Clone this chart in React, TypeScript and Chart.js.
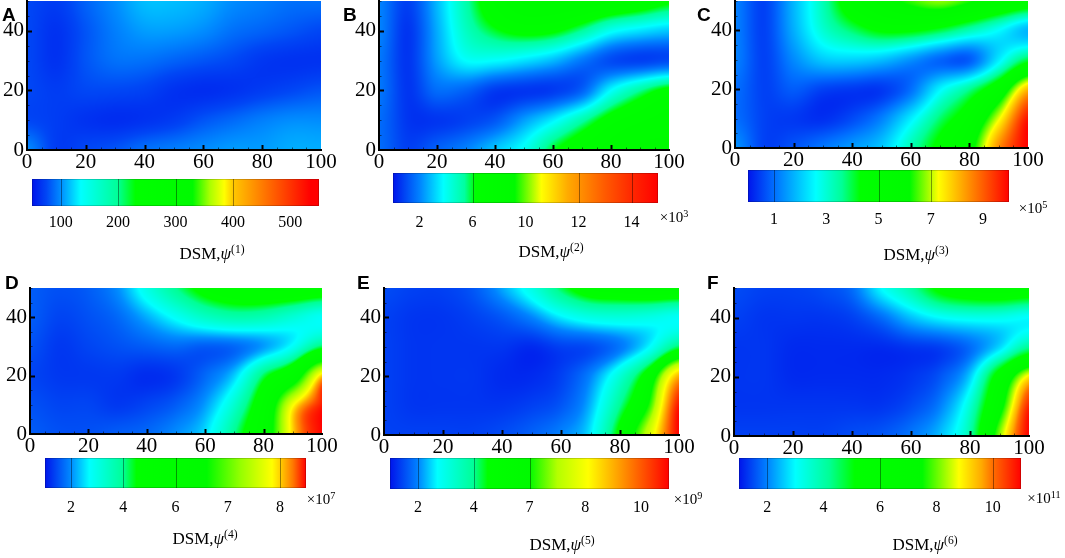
import React, { useEffect, useRef } from 'react';
import { Chart, registerables } from 'chart.js';
Chart.register(...registerables);

// grid nodes of every field: columns left to right, rows listed from the top (y = 50) down
const X_NODES = [0, 10, 20, 30, 40, 50, 60, 70, 80, 90, 100];
const Y_NODES = [50, 40, 30, 20, 10, 0];
const X_TICKS = [0, 20, 40, 60, 80, 100];
const Y_TICKS = [0, 20, 40];

// colour level (0 = left end of its colour bar, 1 = right end)
const FIELD_A = [
  [0.05, 0.04, 0.07, 0.1, 0.13, 0.13, 0.12, 0.1, 0.09, 0.08, 0.08],
  [0.05, 0.03, 0.06, 0.09, 0.11, 0.11, 0.1, 0.08, 0.07, 0.06, 0.05],
  [0.05, 0.03, 0.06, 0.08, 0.08, 0.07, 0.06, 0.05, 0.035, 0.03, 0.03],
  [0.05, 0.04, 0.05, 0.05, 0.045, 0.03, 0.025, 0.03, 0.04, 0.05, 0.06],
  [0.05, 0.04, 0.03, 0.025, 0.03, 0.04, 0.06, 0.075, 0.09, 0.1, 0.1],
  [0.1, 0.04, 0.05, 0.06, 0.08, 0.09, 0.1, 0.11, 0.11, 0.12, 0.12],
];
const FIELD_B = [
  [0.1, 0.04, 0.14, 0.26, 0.36, 0.42, 0.42, 0.41, 0.39, 0.36, 0.32],
  [0.1, 0.03, 0.13, 0.24, 0.3, 0.33, 0.32, 0.27, 0.2, 0.17, 0.15],
  [0.09, 0.03, 0.12, 0.19, 0.19, 0.17, 0.14, 0.09, 0.05, 0.04, 0.05],
  [0.09, 0.03, 0.08, 0.07, 0.035, 0.03, 0.035, 0.07, 0.19, 0.27, 0.33],
  [0.08, 0.03, 0.03, 0.04, 0.06, 0.12, 0.18, 0.26, 0.34, 0.38, 0.4],
  [0.08, 0.04, 0.07, 0.1, 0.15, 0.2, 0.3, 0.36, 0.4, 0.42, 0.42],
];
const FIELD_C = [
  [0.12, 0.05, 0.18, 0.33, 0.5, 0.58, 0.64, 0.68, 0.63, 0.56, 0.5],
  [0.12, 0.05, 0.17, 0.3, 0.38, 0.44, 0.44, 0.4, 0.33, 0.26, 0.18],
  [0.12, 0.05, 0.13, 0.2, 0.21, 0.19, 0.14, 0.09, 0.08, 0.24, 0.4],
  [0.1, 0.05, 0.08, 0.05, 0.04, 0.04, 0.1, 0.25, 0.36, 0.52, 0.8],
  [0.1, 0.05, 0.04, 0.03, 0.06, 0.12, 0.24, 0.38, 0.5, 0.72, 0.98],
  [0.14, 0.05, 0.07, 0.11, 0.15, 0.2, 0.33, 0.46, 0.58, 0.85, 1.0],
];
const FIELD_D = [
  [0.06, 0.05, 0.06, 0.1, 0.2, 0.3, 0.38, 0.42, 0.44, 0.44, 0.42],
  [0.06, 0.04, 0.05, 0.07, 0.12, 0.18, 0.24, 0.27, 0.26, 0.22, 0.18],
  [0.05, 0.03, 0.04, 0.05, 0.06, 0.07, 0.06, 0.07, 0.11, 0.18, 0.32],
  [0.04, 0.03, 0.03, 0.03, 0.02, 0.03, 0.07, 0.14, 0.32, 0.5, 0.9],
  [0.05, 0.04, 0.04, 0.03, 0.04, 0.06, 0.11, 0.23, 0.45, 0.86, 0.99],
  [0.06, 0.05, 0.05, 0.06, 0.07, 0.1, 0.15, 0.3, 0.5, 0.9, 1.0],
];
const FIELD_E = [
  [0.05, 0.04, 0.04, 0.06, 0.12, 0.2, 0.32, 0.4, 0.42, 0.44, 0.44],
  [0.04, 0.03, 0.03, 0.04, 0.06, 0.1, 0.16, 0.2, 0.21, 0.2, 0.18],
  [0.04, 0.03, 0.03, 0.03, 0.03, 0.02, 0.04, 0.05, 0.09, 0.17, 0.32],
  [0.04, 0.03, 0.03, 0.03, 0.02, 0.02, 0.04, 0.1, 0.22, 0.42, 0.8],
  [0.04, 0.03, 0.03, 0.03, 0.03, 0.04, 0.06, 0.13, 0.3, 0.52, 0.98],
  [0.04, 0.04, 0.04, 0.04, 0.05, 0.07, 0.1, 0.16, 0.38, 0.65, 1.0],
];
const FIELD_F = [
  [0.05, 0.04, 0.04, 0.05, 0.08, 0.2, 0.3, 0.44, 0.5, 0.52, 0.5],
  [0.04, 0.03, 0.03, 0.03, 0.04, 0.08, 0.15, 0.2, 0.22, 0.22, 0.2],
  [0.03, 0.03, 0.02, 0.02, 0.02, 0.02, 0.03, 0.04, 0.08, 0.17, 0.32],
  [0.03, 0.03, 0.02, 0.02, 0.02, 0.02, 0.03, 0.06, 0.16, 0.48, 0.8],
  [0.03, 0.03, 0.03, 0.03, 0.03, 0.03, 0.05, 0.1, 0.25, 0.6, 0.97],
  [0.04, 0.04, 0.04, 0.04, 0.05, 0.06, 0.09, 0.15, 0.3, 0.72, 1.0],
];

// colour bar ticks (position along the bar) and their labels
const BAR_TICKS = [0.1, 0.3, 0.5, 0.7, 0.9];
const LABELS_A = ['100', '200', '300', '400', '500'];
const LABELS_B = ['2', '6', '10', '12', '14'];
const LABELS_C = ['1', '3', '5', '7', '9'];
const LABELS_D = ['2', '4', '6', '7', '8'];
const LABELS_E = ['2', '4', '7', '8', '10'];
const LABELS_F = ['2', '4', '6', '8', '10'];
// contour levels marked by thin lines inside each bar
const LINES_A = [0.1, 0.3, 0.5, 0.7];
const LINES_B = [0.3, 0.7, 0.9];
const LINES_C = [0.1, 0.5, 0.7];
const LINES_D = [0.1, 0.3, 0.5, 0.9];
const LINES_E = [0.1, 0.3, 0.5];
const LINES_F = [0.1, 0.5, 0.9];

const SERIF = '"Liberation Serif", "Times New Roman", serif';
const SANS = '"Liberation Sans", Arial, sans-serif';

// colour stops of each bar: [position, rgb]
const STOPS_A = [[0, [0, 20, 235]], [0.05, [0, 70, 245]], [0.1, [0, 140, 255]], [0.17, [0, 255, 255]], [0.3, [0, 255, 150]], [0.36, [0, 255, 0]], [0.56, [0, 250, 0]], [0.62, [170, 255, 0]], [0.67, [255, 255, 0]], [0.7, [255, 200, 0]], [0.82, [255, 110, 0]], [0.97, [255, 0, 0]], [1, [255, 0, 0]]];
const STOPS_B = [[0, [0, 20, 235]], [0.1, [0, 130, 255]], [0.19, [0, 255, 255]], [0.27, [0, 255, 160]], [0.31, [0, 255, 0]], [0.46, [0, 250, 0]], [0.56, [255, 255, 0]], [0.66, [255, 170, 0]], [0.8, [255, 90, 0]], [0.9, [255, 40, 0]], [1, [255, 0, 0]]];
const STOPS_C = [[0, [0, 20, 235]], [0.1, [0, 110, 255]], [0.26, [0, 255, 255]], [0.36, [0, 255, 150]], [0.43, [0, 255, 0]], [0.62, [0, 250, 0]], [0.73, [255, 255, 0]], [0.86, [255, 130, 0]], [1, [255, 0, 0]]];
const STOPS_D = [[0, [0, 20, 235]], [0.1, [0, 140, 255]], [0.17, [0, 255, 255]], [0.3, [0, 255, 150]], [0.35, [0, 255, 0]], [0.62, [0, 250, 0]], [0.75, [150, 255, 0]], [0.87, [255, 255, 0]], [0.9, [255, 210, 0]], [0.95, [255, 120, 0]], [1, [255, 0, 0]]];
const STOPS_E = [[0, [0, 20, 235]], [0.1, [0, 130, 255]], [0.17, [0, 255, 255]], [0.3, [0, 255, 150]], [0.35, [0, 255, 0]], [0.5, [0, 250, 0]], [0.6, [180, 255, 0]], [0.71, [255, 255, 0]], [0.83, [255, 150, 0]], [1, [255, 0, 0]]];
const STOPS_F = [[0, [0, 20, 235]], [0.1, [0, 130, 255]], [0.2, [0, 255, 255]], [0.32, [0, 255, 150]], [0.41, [0, 255, 0]], [0.65, [0, 250, 0]], [0.78, [255, 255, 0]], [0.86, [255, 170, 0]], [0.9, [255, 110, 0]], [1, [255, 0, 0]]];

// layout in page pixels: plot [left, top, right, bottom], bar likewise
const PANELS = [
  { letter: 'A', n: '1', field: FIELD_A, stops: STOPS_A, labels: LABELS_A, lines: LINES_A, exp: null,
    plot: [27, 1, 321, 150], bar: [32, 179, 319, 206], barLabelY: 223, title: [212, 253], note: [0, 0], letterAt: [2, 7] },
  { letter: 'B', n: '2', field: FIELD_B, stops: STOPS_B, labels: LABELS_B, lines: LINES_B, exp: '3',
    plot: [379, 1, 669, 150], bar: [393, 173, 658, 203], barLabelY: 223, title: [551, 251], note: [674, 217], letterAt: [343, 7] },
  { letter: 'C', n: '3', field: FIELD_C, stops: STOPS_C, labels: LABELS_C, lines: LINES_C, exp: '5',
    plot: [735, 1, 1028, 148], bar: [748, 170, 1009, 202], barLabelY: 220, title: [916, 254], note: [1033, 208], letterAt: [697, 7] },
  { letter: 'D', n: '4', field: FIELD_D, stops: STOPS_D, labels: LABELS_D, lines: LINES_D, exp: '7',
    plot: [30, 288, 322, 434], bar: [45, 458, 306, 488], barLabelY: 508, title: [205, 538], note: [321, 499], letterAt: [5, 275] },
  { letter: 'E', n: '5', field: FIELD_E, stops: STOPS_E, labels: LABELS_E, lines: LINES_E, exp: '9',
    plot: [384, 288, 679, 435], bar: [390, 458, 669, 489], barLabelY: 508, title: [562, 544], note: [688, 499], letterAt: [357, 275] },
  { letter: 'F', n: '6', field: FIELD_F, stops: STOPS_F, labels: LABELS_F, lines: LINES_F, exp: '11',
    plot: [734, 288, 1029, 436], bar: [739, 458, 1021, 489], barLabelY: 508, title: [925, 544], note: [1044, 498], letterAt: [707, 275] },
];

function colourAt(stops: any[], t: number): number[] {
  if (t <= stops[0][0]) return stops[0][1];
  for (let k = 1; k < stops.length; k++) {
    const [p1, c1] = stops[k];
    const [p0, c0] = stops[k - 1];
    if (t <= p1) {
      const f = (t - p0) / (p1 - p0);
      return c0.map((v: number, i: number) => v + (c1[i] - v) * f);
    }
  }
  return stops[stops.length - 1][1];
}

// Catmull-Rom between grid nodes, only used to shade pixels between the read values
function cr(p0: number, p1: number, p2: number, p3: number, t: number) {
  return p1 + 0.5 * t * (p2 - p0 + t * (2 * p0 - 5 * p1 + 4 * p2 - p3 + t * (3 * (p1 - p2) + p3 - p0)));
}

function sampleField(f: number[][], gx: number, gy: number) {
  const rows = f.length, cols = f[0].length;
  const ix = Math.min(Math.max(Math.floor(gx), 0), cols - 2);
  const iy = Math.min(Math.max(Math.floor(gy), 0), rows - 2);
  const tx = gx - ix, ty = gy - iy;
  const at = (r: number, c: number) => f[Math.min(Math.max(r, 0), rows - 1)][Math.min(Math.max(c, 0), cols - 1)];
  const row = (r: number) => cr(at(r, ix - 1), at(r, ix), at(r, ix + 1), at(r, ix + 2), tx);
  return Math.min(1, Math.max(0, cr(row(iy - 1), row(iy), row(iy + 1), row(iy + 2), ty)));
}

const AX_W = 32, AX_H = 30, PAD_T = 10, PAD_R = 24;

function makeFieldPlugin(field: number[][], stops: any[]) {
  return {
    id: 'field',
    beforeDraw(chart: any) {
      const { ctx, chartArea: a, scales: { x, y } } = chart;
      const w = Math.round(a.right - a.left), h = Math.round(a.bottom - a.top);
      const off = document.createElement('canvas');
      off.width = w;
      off.height = h;
      const octx = off.getContext('2d')!;
      const img = octx.createImageData(w, h);
      const dx = X_NODES[1] - X_NODES[0], dy = Y_NODES[0] - Y_NODES[1];
      for (let j = 0; j < h; j++) {
        const gy = (Y_NODES[0] - y.getValueForPixel(a.top + j + 0.5)) / dy;
        for (let i = 0; i < w; i++) {
          const gx = (x.getValueForPixel(a.left + i + 0.5) - X_NODES[0]) / dx;
          const c = colourAt(stops, sampleField(field, gx, gy));
          const k = (j * w + i) * 4;
          img.data[k] = c[0];
          img.data[k + 1] = c[1];
          img.data[k + 2] = c[2];
          img.data[k + 3] = 255;
        }
      }
      octx.putImageData(img, 0, 0);
      ctx.drawImage(off, a.left, a.top);
    },
    afterDraw(chart: any) {
      const { ctx, chartArea: a, scales: { x, y } } = chart;
      ctx.save();
      for (let v = 5; v < 100; v += 5) {
        const major = v % 20 === 0;
        const px = Math.round(x.getPixelForValue(v)) + 0.5;
        ctx.strokeStyle = major ? '#000' : 'rgba(0,0,0,0.55)';
        ctx.lineWidth = major ? 2 : 1;
        ctx.beginPath();
        ctx.moveTo(px, a.bottom);
        ctx.lineTo(px, a.bottom - (major ? 5 : 2.5));
        ctx.stroke();
      }
      for (let v = 5; v <= 50; v += 5) {
        const major = v % 20 === 0;
        const py = Math.round(y.getPixelForValue(v)) + 0.5;
        ctx.strokeStyle = major ? '#000' : 'rgba(0,0,0,0.55)';
        ctx.lineWidth = major ? 2 : 1;
        ctx.beginPath();
        ctx.moveTo(a.left, py);
        ctx.lineTo(a.left + (major ? 5 : 2.5), py);
        ctx.stroke();
      }
      ctx.restore();
    },
  };
}

function HeatChart({ p }: { p: any }) {
  const ref = useRef<HTMLCanvasElement>(null);
  const [l, t, r, b] = p.plot;
  useEffect(() => {
    const chart = new Chart(ref.current!, {
      type: 'scatter',
      data: { datasets: [] },
      options: {
        animation: false,
        responsive: true,
        maintainAspectRatio: false,
        layout: { padding: { left: 0, top: PAD_T, right: PAD_R, bottom: 0 } },
        plugins: { legend: { display: false }, tooltip: { enabled: false } },
        scales: {
          x: {
            type: 'linear', min: 0, max: 100,
            afterBuildTicks: (s: any) => { s.ticks = X_TICKS.map((v) => ({ value: v })); },
            ticks: { color: '#000', font: { family: SERIF, size: 21 }, padding: 0, maxRotation: 0, autoSkip: false },
            grid: { display: false, drawTicks: false },
            border: { display: true, color: '#000', width: 2 },
            afterFit: (s: any) => { s.height = AX_H; s.paddingLeft = 0; s.paddingRight = 0; },
          },
          y: {
            type: 'linear', min: 0, max: 50,
            afterBuildTicks: (s: any) => { s.ticks = Y_TICKS.map((v) => ({ value: v })); },
            ticks: { color: '#000', font: { family: SERIF, size: 21 }, padding: 3, autoSkip: false },
            grid: { display: false, drawTicks: false },
            border: { display: true, color: '#000', width: 2 },
            afterFit: (s: any) => { s.width = AX_W; s.paddingTop = 0; s.paddingBottom = 0; },
          },
        },
      } as any,
      plugins: [makeFieldPlugin(p.field, p.stops)],
    });
    return () => chart.destroy();
  }, [p]);
  return (
    <div style={{ position: 'absolute', left: l - AX_W, top: t - PAD_T, width: r - l + AX_W + PAD_R, height: b - t + PAD_T + AX_H }}>
      <canvas ref={ref} />
    </div>
  );
}

const BAR_PAD = 20, BAR_TOP = 4, BAR_AX = 34;

function ColourBar({ p }: { p: any }) {
  const ref = useRef<HTMLCanvasElement>(null);
  const [l, t, r, b] = p.bar;
  useEffect(() => {
    const barPlugin = {
      id: 'bar',
      beforeDraw(chart: any) {
        const { ctx, chartArea: a, scales: { x } } = chart;
        const g = ctx.createLinearGradient(x.getPixelForValue(0), 0, x.getPixelForValue(1), 0);
        p.stops.forEach(([pos, c]: any) => g.addColorStop(pos, `rgb(${c[0]},${c[1]},${c[2]})`));
        ctx.save();
        ctx.fillStyle = g;
        ctx.fillRect(a.left, a.top, a.right - a.left, a.bottom - a.top);
        ctx.strokeStyle = 'rgba(0,0,0,0.4)';
        ctx.lineWidth = 1;
        p.lines.forEach((v: number) => {
          const px = Math.round(x.getPixelForValue(v)) + 0.5;
          ctx.beginPath();
          ctx.moveTo(px, a.top);
          ctx.lineTo(px, a.bottom);
          ctx.stroke();
        });
        ctx.strokeStyle = 'rgba(0,0,0,0.18)';
        ctx.strokeRect(a.left + 0.5, a.top + 0.5, a.right - a.left - 1, a.bottom - a.top - 1);
        ctx.restore();
      },
    };
    const chart = new Chart(ref.current!, {
      type: 'scatter',
      data: { datasets: [] },
      options: {
        animation: false,
        responsive: true,
        maintainAspectRatio: false,
        layout: { padding: { left: BAR_PAD, top: BAR_TOP, right: BAR_PAD, bottom: 0 } },
        plugins: { legend: { display: false }, tooltip: { enabled: false } },
        scales: {
          x: {
            type: 'linear', min: 0, max: 1,
            afterBuildTicks: (s: any) => { s.ticks = BAR_TICKS.map((v) => ({ value: v })); },
            ticks: {
              color: '#000', font: { family: SERIF, size: 16 }, autoSkip: false, maxRotation: 0,
              padding: p.barLabelY - b - 9.6,
              callback: (_v: any, i: number) => p.labels[i],
            },
            grid: { display: false, drawTicks: false },
            border: { display: false },
            afterFit: (s: any) => { s.height = BAR_AX; s.paddingLeft = 0; s.paddingRight = 0; },
          },
          y: { display: false, min: 0, max: 1 },
        },
      } as any,
      plugins: [barPlugin],
    });
    return () => chart.destroy();
  }, [p]);
  return (
    <div style={{ position: 'absolute', left: l - BAR_PAD, top: t - BAR_TOP, width: r - l + 2 * BAR_PAD, height: b - t + BAR_TOP + BAR_AX }}>
      <canvas ref={ref} />
    </div>
  );
}

function Panel({ p }: { p: any }) {
  const supStyle: React.CSSProperties = { fontSize: '0.68em', position: 'relative', top: '-0.5em', verticalAlign: 'baseline' };
  return (
    <>
      <HeatChart p={p} />
      <ColourBar p={p} />
      <div style={{ position: 'absolute', left: p.letterAt[0], top: p.letterAt[1] - 2.5, font: `bold 19px ${SANS}`, lineHeight: '19px' }}>
        {p.letter}
      </div>
      <div style={{ position: 'absolute', left: p.title[0], top: p.title[1], transform: 'translate(-50%, -50%)', font: `17px ${SERIF}`, lineHeight: 1, whiteSpace: 'nowrap' }}>
        DSM,<i>ψ</i><span style={supStyle}>({p.n})</span>
      </div>
      {p.exp && (
        <div style={{ position: 'absolute', left: p.note[0], top: p.note[1], transform: 'translate(-50%, -50%)', font: `15px ${SERIF}`, lineHeight: 1, whiteSpace: 'nowrap' }}>
          ×10<span style={supStyle}>{p.exp}</span>
        </div>
      )}
    </>
  );
}

export default function App() {
  return (
    <div style={{ position: 'absolute', left: 0, top: 0, width: 1065, height: 558, background: '#fff', overflow: 'hidden' }}>
      {PANELS.map((p) => (
        <Panel key={p.letter} p={p} />
      ))}
    </div>
  );
}
